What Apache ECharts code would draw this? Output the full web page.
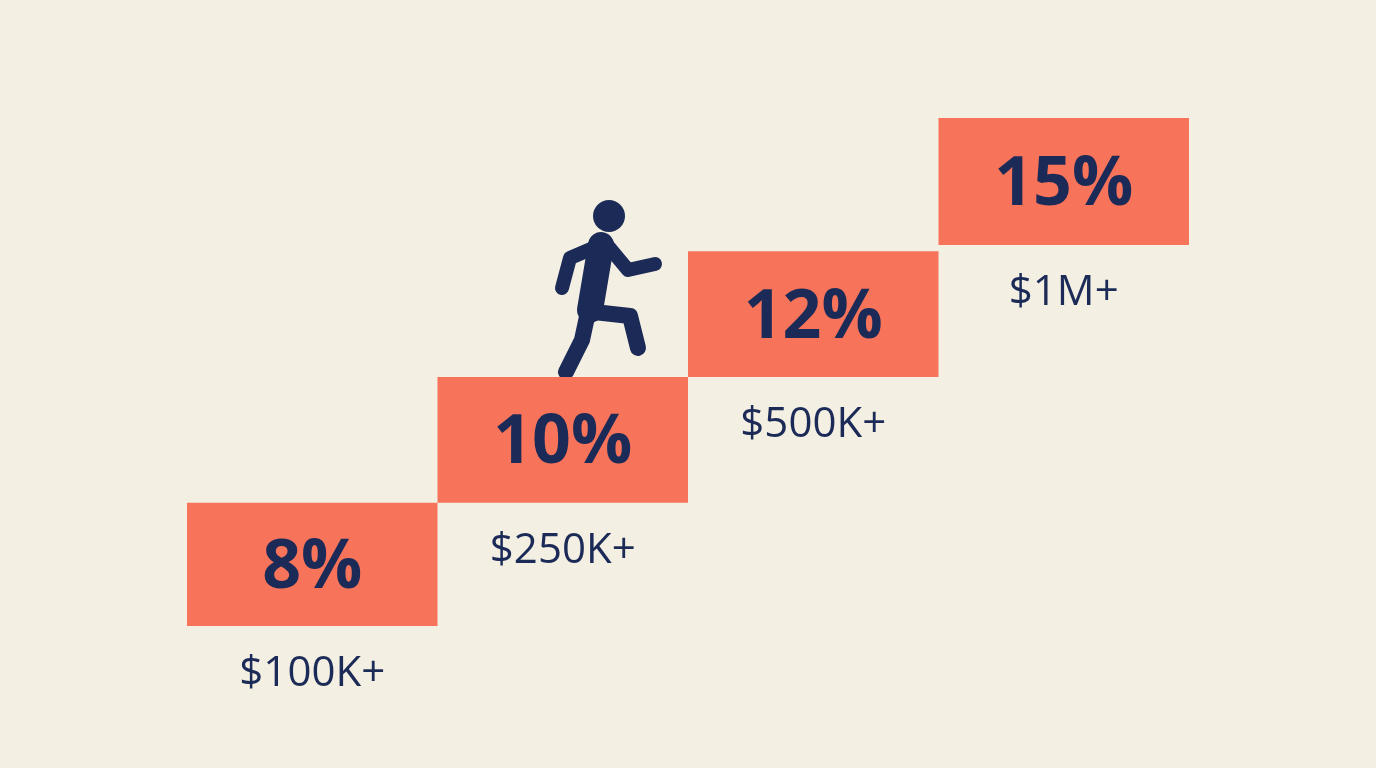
<!DOCTYPE html>
<html><head><meta charset="utf-8">
<script src="https://cdn.jsdelivr.net/npm/echarts@6/dist/echarts.min.js"></script>
<style>html,body{margin:0;padding:0;background:#f3efe2}#c{width:1376px;height:768px}</style>
</head><body><div id="c"></div>
<script>
const categories = ['$100K+', '$250K+', '$500K+', '$1M+'];
const rates = [8, 10, 12, 15];
const stepBase = [0, 0.97, 1.96, 3.0];
const stepTop = [0.97, 1.96, 2.95, 4.0];
const NAVY = '#1b2a57';
const chart = echarts.init(document.getElementById('c'));
chart.setOption({
  backgroundColor: '#f3efe2',
  animation: false,
  grid: {left: 187, right: 187, top: 118, bottom: 142},
  xAxis: {type: 'category', data: categories, show: false},
  yAxis: {type: 'value', min: 0, max: 4, show: false},
  series: [{
    type: 'custom',
    data: categories.map((c, i) => [i, stepBase[i], stepTop[i], rates[i]]),
    renderItem: function (params, api) {
      const i = api.value(0);
      const w = api.size([1, 0])[0];
      const p0 = api.coord([i, api.value(1)]);
      const p1 = api.coord([i, api.value(2)]);
      const x = p0[0] - w / 2;
      return {type: 'group', children: [
        {type: 'rect', shape: {x: x, y: p1[1], width: w, height: p0[1] - p1[1]}, style: {fill: '#f7735a'}},
        {type: 'text', style: {text: api.value(3) + '%', x: p0[0], y: (p0[1] + p1[1]) / 2 + 4, textAlign: 'center', textVerticalAlign: 'middle', fill: NAVY, font: 'bold 68px "Open Sans", sans-serif'}},
        {type: 'text', style: {text: categories[i], x: p0[0], y: p0[1] + 48, textAlign: 'center', textVerticalAlign: 'middle', fill: NAVY, font: '42px "Open Sans", sans-serif'}}
      ]};
    }
  }],
  graphic: [
    {type: 'circle', shape: {cx: 609, cy: 216, r: 16}, style: {fill: NAVY}},
    {type: 'polyline', shape: {points: [[601, 245], [590, 310]]}, style: {stroke: NAVY, lineWidth: 26, lineCap: 'round', fill: null}},
    {type: 'polyline', shape: {points: [[598, 246], [570, 258], [562, 288]]}, style: {stroke: NAVY, lineWidth: 14, lineCap: 'round', lineJoin: 'round', fill: null}},
    {type: 'polyline', shape: {points: [[608, 246], [628, 270], [655, 264]]}, style: {stroke: NAVY, lineWidth: 14, lineCap: 'round', lineJoin: 'round', fill: null}},
    {type: 'polyline', shape: {points: [[588, 312], [582, 340], [566, 372]]}, style: {stroke: NAVY, lineWidth: 16, lineCap: 'round', lineJoin: 'round', fill: null}},
    {type: 'polyline', shape: {points: [[594, 312], [630, 316], [638, 348]]}, style: {stroke: NAVY, lineWidth: 16, lineCap: 'round', lineJoin: 'round', fill: null}}
  ]
});
</script></body></html>
